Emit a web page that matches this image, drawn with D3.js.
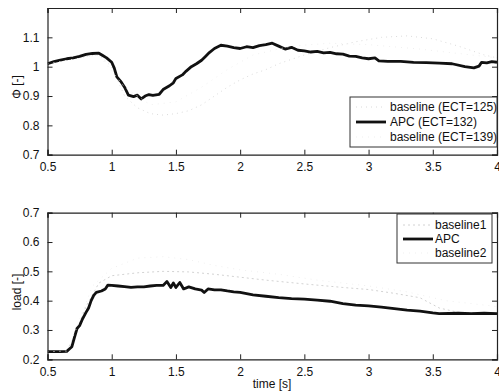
<!DOCTYPE html>
<html><head><meta charset="utf-8">
<script src="https://cdn.jsdelivr.net/npm/d3@7"></script>
<style>
body{margin:0;background:#fff;}
text{font-family:"Liberation Sans",Arial,sans-serif;fill:#111;}
</style></head>
<body>
<svg id="c" width="499" height="392"></svg>
<script>
// ---------- data ----------
const xTicks = [0.5,1,1.5,2,2.5,3,3.5,4];
const xTickLabels = ["0.5","1","1.5","2","2.5","3","3.5","4"];
const phiTicks = [0.7,0.8,0.9,1,1.1];
const phiTickLabels = ["0.7","0.8","0.9","1","1.1"];
const loadTicks = [0.2,0.3,0.4,0.5,0.6,0.7];
const loadTickLabels = ["0.2","0.3","0.4","0.5","0.6","0.7"];

const phiLegend = ["baseline (ECT=125)","APC (ECT=132)","baseline (ECT=139)"];
const loadLegend = ["baseline1","APC","baseline2"];

const phiTime_APC = [0.50,0.55,0.60,0.65,0.70,0.75,0.80,0.85,0.90,0.93,0.96,1.00,1.02,1.04,1.07,1.10,1.13,1.17,1.20,1.23,1.26,1.29,1.32,1.37,1.40,1.45,1.48,1.50,1.55,1.58,1.62,1.66,1.70,1.73,1.76,1.80,1.85,1.90,1.95,2.00,2.05,2.10,2.15,2.20,2.25,2.30,2.35,2.40,2.45,2.50,2.55,2.60,2.65,2.70,2.75,2.80,2.85,2.90,2.95,3.00,3.05,3.08,3.15,3.25,3.35,3.45,3.55,3.65,3.75,3.82,3.86,3.88,3.92,3.96,4.00];
const phi_APC = [1.010,1.017,1.022,1.027,1.030,1.035,1.042,1.045,1.046,1.038,1.030,1.015,0.995,0.965,0.950,0.930,0.903,0.898,0.903,0.890,0.900,0.905,0.902,0.906,0.922,0.935,0.945,0.960,0.972,0.985,1.000,1.010,1.022,1.035,1.048,1.062,1.073,1.070,1.065,1.062,1.068,1.065,1.072,1.075,1.080,1.070,1.060,1.066,1.056,1.054,1.050,1.052,1.047,1.049,1.044,1.043,1.036,1.035,1.030,1.027,1.030,1.020,1.018,1.018,1.015,1.014,1.012,1.010,1.000,0.996,1.002,1.015,1.013,1.017,1.015];

const phiTime_b125 = [0.5,0.7,0.9,1.0,1.1,1.2,1.3,1.4,1.5,1.6,1.7,1.8,1.9,2.0,2.1,2.2,2.3,2.5,2.7,2.9,3.1,3.3,3.5,3.7,3.9,4.0];
const phi_b125 = [1.01,1.03,1.04,1.0,0.90,0.86,0.84,0.835,0.84,0.85,0.87,0.90,0.93,0.955,0.975,0.99,1.01,1.04,1.065,1.085,1.10,1.105,1.095,1.07,1.04,1.03];

const phiTime_b139 = [0.5,0.9,1.1,1.3,1.5,1.7,1.9,2.1,2.4,2.7,3.0,3.4,3.8,4.0];
const phi_b139 = [1.01,1.04,0.93,0.87,0.88,0.93,0.99,1.04,1.07,1.08,1.075,1.06,1.04,1.03];

const loadTime_APC = [0.50,0.60,0.65,0.67,0.69,0.71,0.73,0.75,0.77,0.80,0.82,0.84,0.86,0.88,0.92,0.95,0.97,1.00,1.05,1.10,1.15,1.20,1.25,1.30,1.35,1.40,1.43,1.46,1.48,1.50,1.53,1.56,1.60,1.65,1.70,1.72,1.75,1.80,1.85,1.90,1.95,2.00,2.10,2.20,2.30,2.40,2.50,2.60,2.70,2.80,2.90,3.00,3.10,3.20,3.30,3.40,3.50,3.55,3.70,3.80,3.90,4.00];
const load_APC = [0.226,0.226,0.227,0.235,0.243,0.275,0.305,0.315,0.335,0.360,0.375,0.400,0.418,0.428,0.433,0.440,0.453,0.452,0.450,0.448,0.445,0.447,0.447,0.450,0.452,0.452,0.465,0.445,0.460,0.445,0.462,0.440,0.447,0.440,0.436,0.428,0.440,0.437,0.437,0.433,0.430,0.428,0.420,0.415,0.410,0.407,0.405,0.402,0.398,0.390,0.385,0.382,0.378,0.373,0.368,0.364,0.358,0.356,0.357,0.356,0.357,0.356];

const loadTime_b1 = [0.5,0.65,0.7,0.8,0.9,1.0,1.2,1.4,1.6,1.8,2.0,2.2,2.5,2.8,3.0,3.2,3.4,3.55,3.7,4.0];
const load_b1 = [0.226,0.228,0.27,0.38,0.46,0.485,0.495,0.50,0.498,0.49,0.48,0.47,0.457,0.445,0.438,0.425,0.41,0.375,0.36,0.358];

const loadTime_b2 = [0.5,0.65,0.72,0.85,1.0,1.2,1.4,1.6,1.8,2.0,2.3,2.6,3.0,3.3,3.6,4.0];
const load_b2 = [0.226,0.228,0.30,0.45,0.51,0.545,0.55,0.54,0.52,0.505,0.49,0.47,0.45,0.43,0.40,0.38];

// ---------- drawing ----------
const svg = d3.select("#c");
const X0 = 47.5, X1 = 497;
const x = d3.scaleLinear().domain([0.5,4]).range([X0,X1]);

function panel(opts){
  const y = d3.scaleLinear().domain(opts.domain).range([opts.bottom, opts.top]);
  const g = svg.append("g");
  const zip = (t,v)=>t.map((d,i)=>[d,v[i]]);
  const line = d3.line().x(d=>x(d[0])).y(d=>y(d[1]));
  const clipId = "clip"+opts.id;
  svg.append("clipPath").attr("id",clipId).append("rect")
    .attr("x",X0).attr("y",opts.top).attr("width",X1-X0).attr("height",opts.bottom-opts.top);
  const lines = g.append("g").attr("clip-path",`url(#${clipId})`);
  opts.series.forEach(s=>{
    lines.append("path").datum(zip(s.t,s.v)).attr("d",line)
      .attr("fill","none").attr("stroke",s.color).attr("stroke-width",s.w)
      .attr("stroke-dasharray",s.dash||null).attr("stroke-linejoin","round");
  });
  // axes (MATLAB box, ticks inward)
  const tl = 5;
  g.append("g").attr("transform",`translate(0,${opts.bottom})`)
    .call(d3.axisBottom(x).tickValues(xTicks).tickSize(-tl).tickPadding(8)
      .tickFormat((d,i)=>xTickLabels[i]));
  g.append("g").attr("transform",`translate(0,${opts.top})`)
    .call(d3.axisTop(x).tickValues(xTicks).tickSize(-tl).tickFormat(""));
  g.append("g").attr("transform",`translate(${X0},0)`)
    .call(d3.axisLeft(y).tickValues(opts.ticks).tickSize(-tl).tickPadding(8)
      .tickFormat((d,i)=>opts.tickLabels[i]));
  g.append("g").attr("transform",`translate(${X1},0)`)
    .call(d3.axisRight(y).tickValues(opts.ticks).tickSize(-tl).tickFormat(""));
  g.selectAll(".domain").attr("stroke","#222").attr("stroke-width",1.2);
  g.selectAll(".tick line").attr("stroke","#222");
  g.selectAll(".tick text").style("font-size","12px").attr("fill","#111");
  // y label
  g.append("text").attr("transform",`translate(21,${opts.labelY}) rotate(-90)`)
    .attr("text-anchor","middle").style("font-size","12px").text(opts.ylabel);
  // legend
  const L = opts.legend;
  const lg = g.append("g");
  lg.append("rect").attr("x",L.x).attr("y",L.y).attr("width",L.w).attr("height",L.h)
    .attr("fill","#fff").attr("stroke","#333").attr("stroke-width",1);
  opts.series.forEach((s,i)=>{
    const yy = L.y + L.first + i*L.step;
    lg.append("line").attr("x1",L.lx0).attr("x2",L.lx1).attr("y1",yy).attr("y2",yy)
      .attr("stroke",s.color).attr("stroke-width",s.w).attr("stroke-dasharray",s.dash||null);
    lg.append("text").attr("x",L.tx).attr("y",yy+4).style("font-size","12px").text(L.labels[i]);
  });
}

panel({
  id:"top", domain:[0.7,1.2], top:8, bottom:154.7,
  ticks:phiTicks, tickLabels:phiTickLabels, ylabel:"Φ [-]", labelY:87,
  series:[
    {t:phiTime_b125, v:phi_b125, color:"#dadada", w:1, dash:"1,4"},
    {t:phiTime_APC, v:phi_APC, color:"#111", w:2.8},
    {t:phiTime_b139, v:phi_b139, color:"#efefef", w:1, dash:"1,5"}
  ],
  legend:{x:350, y:97, w:147, h:50, first:10, step:15, lx0:356, lx1:386, tx:390, labels:phiLegend}
});

panel({
  id:"bot", domain:[0.2,0.7], top:212.7, bottom:359.3,
  ticks:loadTicks, tickLabels:loadTickLabels, ylabel:"load [-]", labelY:292,
  series:[
    {t:loadTime_b1, v:load_b1, color:"#d2d2d2", w:1, dash:"2,3"},
    {t:loadTime_APC, v:load_APC, color:"#111", w:2.8},
    {t:loadTime_b2, v:load_b2, color:"#efefef", w:1, dash:"1,5"}
  ],
  legend:{x:397, y:214, w:95, h:49, first:11, step:14, lx0:403, lx1:433, tx:435, labels:loadLegend}
});

svg.append("text").attr("x",272).attr("y",388).attr("text-anchor","middle")
  .style("font-size","12px").text("time [s]");
</script>
</body></html>
